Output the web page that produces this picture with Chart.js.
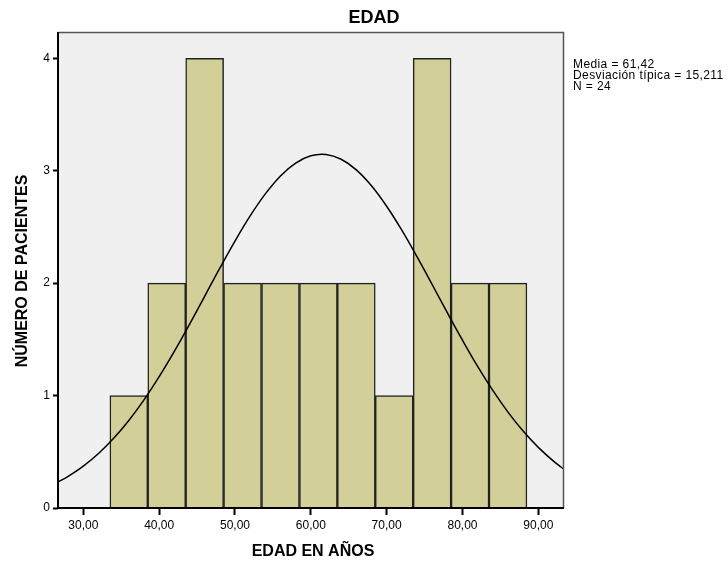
<!DOCTYPE html>
<html>
<head>
<meta charset="utf-8">
<script src="https://cdn.jsdelivr.net/npm/chart.js@4/dist/chart.umd.min.js"></script>
<style>
  html, body { margin: 0; padding: 0; background: #fff; }
  #grafica { display: block; }
</style>
</head>
<body>
<canvas id="grafica"></canvas>
<script>
// Datos del histograma (centros de clase y frecuencias)
const centrosClase = [36, 41, 46, 51, 56, 61, 66, 71, 76, 81, 86];
const frecuencias = [1, 2, 4, 2, 2, 2, 2, 1, 4, 2, 2];

// Curva normal
const curvaX = [26.7, 28, 30, 32, 34, 36, 38, 40, 42, 44, 46, 48, 50, 52, 54, 56, 58, 60, 62,
                64, 66, 68, 70, 72, 74, 76, 78, 80, 82, 84, 86, 88, 90, 92, 93.4];
const curvaY = [0.233, 0.282, 0.373, 0.485, 0.620, 0.779, 0.962, 1.168, 1.393, 1.633, 1.883, 2.133, 2.374, 2.598, 2.794, 2.954, 3.068, 3.133, 3.145,
                3.102, 3.008, 2.866, 2.684, 2.471, 2.235, 1.988, 1.737, 1.493, 1.260, 1.046, 0.853, 0.684, 0.539, 0.417, 0.345];

const ticksX = [30, 40, 50, 60, 70, 80, 90];
const ticksY = [0, 1, 2, 3, 4];
const lineasLeyenda = ["Media = 61,42", "Desviación típica = 15,211", "N = 24"];

const canvas = document.getElementById("grafica");
canvas.width = 727;
canvas.height = 563;

// Fondo gris del area de trazado, marco y textos
const marcoPlugin = {
    id: "marco",
    beforeDatasetsDraw(chart) {
        const { ctx, chartArea: a } = chart;
        ctx.save();
        ctx.fillStyle = "#f0f0f0";
        ctx.fillRect(a.left, a.top, a.right - a.left, a.bottom - a.top);
        ctx.restore();
    },
    afterDraw(chart) {
        const { ctx, chartArea: a } = chart;
        ctx.save();
        ctx.strokeStyle = "#555";
        ctx.lineWidth = 1.5;
        ctx.beginPath();
        ctx.moveTo(a.left, a.top + 0.5);
        ctx.lineTo(a.right - 0.5, a.top + 0.5);
        ctx.lineTo(a.right - 0.5, a.bottom);
        ctx.stroke();
        ctx.strokeStyle = "#000";
        ctx.lineWidth = 2;
        ctx.beginPath();
        ctx.moveTo(a.left, a.top);
        ctx.lineTo(a.left, a.bottom);
        ctx.lineTo(a.right, a.bottom);
        ctx.stroke();

        // Titulos
        ctx.fillStyle = "#000";
        ctx.textAlign = "center";
        ctx.textBaseline = "middle";
        ctx.font = "bold 18px 'Liberation Sans', Arial, sans-serif";
        ctx.fillText("EDAD", 374, 18);
        ctx.font = "bold 16px 'Liberation Sans', Arial, sans-serif";
        ctx.fillText("EDAD EN AÑOS", 313, 552);
        ctx.save();
        ctx.translate(23, 271);
        ctx.rotate(-Math.PI / 2);
        ctx.fillText("NÚMERO DE PACIENTES", 0, 0);
        ctx.restore();

        // Estadisticos
        ctx.textAlign = "left";
        ctx.textBaseline = "alphabetic";
        ctx.font = "12px 'Liberation Sans', Arial, sans-serif";
        ctx.letterSpacing = "0.4px";
        lineasLeyenda.forEach((t, i) => ctx.fillText(t, 573, 68 + i * 11));
        ctx.restore();
    }
};

new Chart(canvas, {
    type: "bar",
    data: {
        datasets: [
            {
                type: "line",
                label: "Normal",
                data: curvaX.map((x, i) => ({ x: x, y: curvaY[i] })),
                borderColor: "#000",
                borderWidth: 1.5,
                pointRadius: 0,
                tension: 0.4,
                fill: false,
                order: 0
            },
            {
                label: "Edad",
                data: centrosClase.map((x, i) => ({ x: x, y: frecuencias[i] })),
                backgroundColor: "#d3cf98",
                borderColor: "#222",
                borderWidth: 1.5,
                barPercentage: 1,
                categoryPercentage: 1,
                order: 1
            }
        ]
    },
    options: {
        responsive: false,
        animation: false,
        layout: { padding: { top: 32, right: 163, left: 0, bottom: 0 } },
        plugins: {
            legend: { display: false },
            title: { display: false },
            tooltip: { enabled: false }
        },
        scales: {
            x: {
                type: "linear",
                min: 26.66,
                max: 93.39,
                offset: false,
                afterBuildTicks: s => { s.ticks = ticksX.map(v => ({ value: v })); },
                afterFit: s => { s.height = 55; },
                ticks: {
                    color: "#000",
                    padding: 3,
                    maxRotation: 0,
                    font: { family: "'Liberation Sans', Arial, sans-serif", size: 12 },
                    callback: v => v.toFixed(2).replace(".", ",")
                },
                grid: { drawOnChartArea: false, drawTicks: true, tickLength: 7, tickWidth: 2, color: "#000", offset: false },
                border: { display: false }
            },
            y: {
                min: 0,
                max: 4.234,
                afterBuildTicks: s => { s.ticks = ticksY.map(v => ({ value: v })); },
                afterFit: s => { s.width = 58; },
                ticks: {
                    color: "#000",
                    padding: 3,
                    font: { family: "'Liberation Sans', Arial, sans-serif", size: 12 }
                },
                grid: { drawOnChartArea: false, drawTicks: true, tickLength: 5, tickWidth: 2, color: "#000" },
                border: { display: false }
            }
        }
    },
    plugins: [marcoPlugin]
});
</script>
</body>
</html>
